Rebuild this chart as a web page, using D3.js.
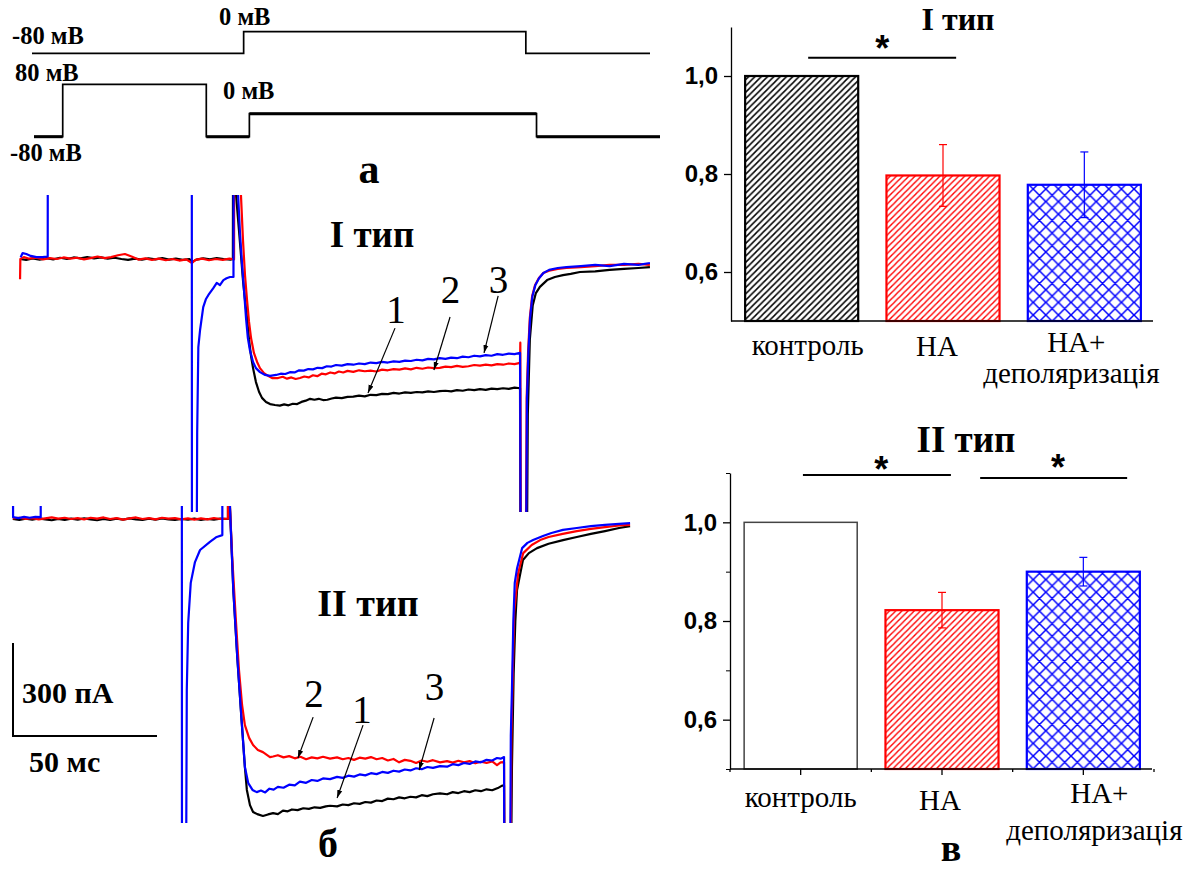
<!DOCTYPE html>
<html><head><meta charset="utf-8">
<script src="https://cdn.jsdelivr.net/npm/d3@7"></script>
<style>
html,body{margin:0;padding:0;background:#fff;}
svg{display:block;}
</style></head><body>
<svg id="fig" width="1204" height="871"></svg>
<script>
// ---------- voltage protocols: [time ms, potential mV] ----------
const protoTest = [[0,-80],[75,-80],[75,0],[175,0],[175,-80],[219,-80]];
const protoPrepulse = [[0,-80],[10,-80],[10,80],[60,80],[60,-80],[75,-80],[75,0],[175,0],[175,-80],[218,-80]];

// ---------- current traces, type I: [time ms, current pA] ----------
const t1Control = [
 [0.3,0],[2.4,-3],[4.7,2],[7.1,-2],[9.5,3],[11.8,-1],[14.2,4],[16.6,0],[18.9,5],[21.3,2],[23.6,6],[26,2],[28.4,5],[30.7,1],[33.1,4],[35.5,0],[37.8,-3],[40.2,1],[42.6,-2],[44.9,2],[47.3,-1],[49.7,3],[52,-2],[54.4,1],[56.8,-3],[59.1,0],[60,-10],[61.5,-2],[63.9,2],[66.2,-1],[68.6,3],[71,0],[73.3,-2],[74.2,0],
 [74.3,700],[75.0,700],[75.3,206],[76.3,94],[77.0,13],[77.7,-68],[78.4,-132],[79.1,-190],[79.8,-261],[80.5,-313],[81.2,-352],[82.2,-397],[83.3,-429],[84.3,-448],[85.7,-461],[87.1,-468],[88.8,-471],
 [90.5,-473],[92,-469],[93.5,-472],[95,-467],[96.5,-468],[98,-461],[99.5,-457],[101,-451],[102.5,-454],[104,-451],[105.5,-455],[107,-454],[108.5,-450],[110,-447],[112,-449],[114,-445],[116,-444],[118,-441],[120,-443],[122,-438],[124,-439],[126,-435],[128,-436],[130,-432],[132,-434],[134,-430],[136,-432],[138,-429],[140,-430],[142,-427],[144,-429],[146,-426],[148,-425],[150,-427],[152,-423],[154,-425],[156,-421],[158,-423],[160,-420],[162,-422],[164,-418],[166,-420],[168,-417],[170,-419],[172,-415],[173.9,-417],
 [174.2,-1500],[175.9,-1500],[176.6,-500],[177.3,-260],[178.3,-150],[179.4,-110],[180.8,-90],[183.3,-68],[186,-58],[188.8,-52],[191.5,-48],[194.7,-42],[200,-40],[205,-35],[210,-32],[215,-29],[219,-26]
];
const t1NA = [
 [0.3,-65],[0.4,0],[1.6,6],[3.5,1],[5.9,4],[8.3,-1],[10.6,3],[13,0],[15.4,5],[17.7,1],[20.1,4],[22.5,-1],[24.8,3],[27.2,8],[29.6,3],[31.9,6],[34.3,12],[36.7,16],[39,8],[41.4,-2],[43.8,2],[46.1,-3],[48.5,1],[50.9,-4],[53.2,0],[55.6,-5],[58,-1],[60,-13],[61.2,-3],[63.5,1],[65.9,-4],[68.3,0],[70.7,-3],[73,1],[74.6,-1],
 [74.7,700],[76.6,700],[77.0,206],[77.7,61],[78.4,-52],[79.1,-132],[79.8,-203],[80.5,-255],[81.5,-303],[82.6,-332],[83.6,-352],[85.0,-368],[86.4,-377],[87.8,-384],[89.9,-384],
 [91.5,-380],[93,-386],[94.5,-382],[96,-387],[97.5,-384],[99,-379],[100.5,-382],[102,-375],[103.5,-378],[105,-370],[106.5,-372],[108,-366],[109.5,-369],[111,-363],[112.5,-366],[114,-361],[116,-364],[118,-359],[120,-362],[122,-360],[124,-363],[126,-357],[128,-359],[130,-355],[132,-357],[134,-353],[136,-356],[138,-351],[140,-354],[142,-350],[144,-352],[146,-351],[148,-347],[150,-349],[152,-345],[154,-348],[156,-346],[158,-342],[160,-344],[162,-341],[164,-343],[166,-339],[168,-341],[170,-337],[172,-339],[173.9,-335],
 [174.0,-270],[174.3,-1500],[175.6,-1500],[176.2,-450],[176.7,-300],[177.3,-190],[178.1,-120],[179.1,-85],[180.4,-62],[182,-45],[184,-38],[187,-32],[190,-29],[195,-26],[200,-23],[205,-19],[210,-19],[215,-16],[219,-19]
];
const t1NADep = [
 [0.5,6],[1.2,19],[2.5,16],[4,10],[6,6],[8,6],[9.9,8],[10.0,1200],[59.9,1200],[60.0,-1500],[61.4,-1500],[61.8,-560],[62.2,-284],[62.8,-229],[63.9,-155],[64.8,-130],[65.7,-116],[67.4,-94],[68.6,-77],[69.7,-84],[70.9,-68],[72,-62],[73.2,-58],[74.4,-58],
 [74.5,1200],[75.7,1200],[76.0,206],[76.7,77],[77.4,-19],[78.1,-106],[78.75,-190],[79.4,-255],[80.1,-294],[81.2,-332],[82.2,-352],[83.6,-365],[85.4,-374],[87.1,-377],[89.2,-374],
 [90.8,-370],[92.4,-371],[94,-365],[95.6,-366],[97.2,-359],[98.8,-360],[100.4,-355],[102,-356],[103.6,-351],[105.2,-352],[106.8,-346],[108.4,-347],[110,-342],[112,-344],[114,-339],[116,-341],[118,-337],[120,-339],[122,-334],[124,-336],[126,-332],[128,-334],[130,-330],[132,-332],[134,-328],[136,-329],[138,-325],[140,-327],[142,-322],[144,-324],[146,-320],[148,-322],[150,-318],[152,-320],[154,-315],[156,-317],[158,-312],[160,-314],[162,-310],[164,-312],[166,-307],[168,-309],[170,-305],[172,-307],[173.9,-303],
 [174.3,-1500],[175.7,-1500],[176.3,-450],[176.8,-300],[177.4,-190],[178.2,-120],[179.2,-85],[180.5,-62],[182,-45],[184,-35],[187,-29],[190,-26],[195,-23],[200,-19],[205,-23],[210,-16],[215,-19],[219,-13]
];

// ---------- current traces, type II: [time ms, current pA] ----------
const t2Control = [
 [0,0],[2.3,-3],[4.6,1],[6.9,-2],[9.2,2],[11.5,-1],[13.8,-4],[16.1,0],[18.4,-3],[20.7,1],[23,-2],[25.3,2],[27.6,-1],[29.9,-4],[32.2,0],[34.5,-3],[36.8,1],[39.1,-2],[41.4,2],[43.7,-1],[46,-3],[48.3,1],[50.6,-2],[52.9,2],[55.2,-1],[57.5,-3],[59.8,0],[62.1,-2],[64.4,1],[66.7,-3],[69,0],[71.3,-2],[73.6,1],[76.3,0],
 [76.4,1000],[76.9,1000],[77.0,39],[78.2,-229],[79.6,-445],[81.2,-658],[82.3,-800],[83.0,-874],[84.1,-923],[85.2,-945],[86.7,-952],[88.7,-958],
 [90.5,-953],[92.3,-949],[94,-952],[95.8,-941],[97.5,-943],[99,-937],[101,-939],[103,-933],[105,-935],[107,-930],[109,-932],[111,-927],[112.5,-925],[115,-927],[117,-921],[119,-923],[121,-917],[123,-919],[125,-913],[127,-915],[129,-908],[131,-910],[133,-902],[135,-904],[137,-898],[139,-901],[141,-896],[143,-898],[145,-891],[147,-894],[149,-888],[151.5,-885],[154,-888],[156,-881],[158,-884],[160,-878],[162,-881],[164,-875],[166,-878],[168,-872],[170,-875],[172,-868],[173.5,-860],[174.2,-860],
 [174.5,-1500],[176.3,-1500],[177,-800],[177.6,-500],[178.2,-330],[178.8,-229],[180.9,-132],[183,-110],[185.9,-94],[190,-80],[195.1,-68],[200,-58],[205,-48],[210,-39],[215,-29],[218.9,-23]
];
const t2NA = [
 [0,2],[2.3,4],[4.6,0],[6.9,3],[9.2,-1],[11.5,2],[13.8,5],[16.1,1],[18.4,4],[20.7,0],[23,3],[25.3,-1],[27.6,4],[29.9,1],[32.2,5],[34.5,0],[36.8,3],[39.1,-2],[41.4,2],[43.7,5],[46,0],[48.3,3],[50.6,-1],[52.9,4],[55.2,1],[57.5,3],[59.8,-1],[62.1,2],[64.4,-2],[66.7,2],[69,-1],[71.3,3],[73.6,0],[76.3,1],
 [76.4,1000],[76.9,1000],[77.0,39],[77.8,-123],[79.1,-326],[80.2,-487],[81.3,-600],[82.3,-665],[83.8,-706],[85.2,-729],[86.9,-745],[88.7,-752],[91.2,-768],
 [92.3,-766],[94,-762],[96,-769],[98,-765],[100,-772],[102,-767],[104,-775],[106,-769],[108,-772],[110,-767],[112.5,-773],[115,-769],[117,-775],[119,-771],[121,-777],[123,-770],[125,-773],[127,-768],[129,-775],[131,-771],[133,-779],[135,-774],[137,-785],[139,-777],[141,-780],[143,-787],[145,-779],[147,-783],[149,-778],[151.5,-785],[154,-781],[156,-786],[158,-780],[160,-785],[162,-781],[164,-788],[166,-783],[168,-787],[170,-782],[171.7,-794],[173,-785],[174.2,-784],
 [174.5,-1500],[176.3,-1500],[176.8,-700],[177.3,-500],[177.8,-300],[179.2,-175],[181,-110],[184,-84],[187,-68],[190,-58],[195,-48],[200,-39],[205,-32],[210,-26],[215,-21],[218.9,-19]
];
const t2NADep = [
 [0,400],[0.1,6],[2,3],[4,7],[6,4],[8,7],[9.9,6],[10.0,1500],[59.9,1500],[60.0,-1500],[61.3,-1500],[61.7,-552],[62.2,-335],[63.1,-206],[64.6,-139],[66.4,-100],[69.9,-74],[72.3,-58],[74.3,-52],
 [74.4,1500],[76.8,1500],[77.0,39],[78.2,-229],[79.6,-445],[81.2,-658],[82.3,-800],[83.5,-852],[85,-874],[86.5,-881],
 [88,-876],[89.5,-882],[91,-870],[92.5,-873],[94,-864],[96,-867],[98,-857],[100,-859],[101.8,-847],[104,-851],[106,-842],[108,-845],[110,-837],[112.5,-839],[115,-832],[117,-835],[119,-828],[121,-831],[123,-824],[125,-827],[127,-820],[129,-823],[131,-816],[133,-819],[135,-812],[137,-815],[139,-808],[141,-811],[143,-804],[145,-807],[147,-800],[149,-803],[151.5,-797],[154,-799],[156,-791],[158,-794],[160,-787],[162,-790],[164,-782],[166,-785],[168,-777],[170,-779],[171.7,-771],[173,-773],[174.2,-768],
 [174.4,-1500],[176.2,-1500],[176.6,-700],[177.0,-552],[177.5,-330],[178.0,-206],[178.8,-160],[180.6,-94],[182.5,-77],[184.5,-68],[188,-55],[191,-45],[195.1,-35],[200,-29],[205,-23],[210,-19],[215,-16],[218.9,-13]
];

// trace labels: [label, text t, text I, arrow-from t, arrow-from I, arrow-to t, arrow-to I]
const t1Labels = [["1",130.8,-206,130.5,-223,121.1,-432],["2",149.8,-142,149.6,-187,144.0,-358],["3",166.4,-110,166.3,-119,161.4,-303]];
const t2Labels = [["2",106.8,-606,106.5,-639,101.1,-771],["1",123.8,-658,124.2,-665,115.0,-900],["3",149.5,-584,149.4,-642,144.1,-810]];

// ---------- normalised amplitude (bar charts) ----------
const categories = ["контроль", "НА", "НА+ деполяризація"];
const categoryLines = [["контроль"], ["НА"], ["НА+", "деполяризація"]];
const type1Means = [1.0, 0.797, 0.778];
const type1Errors = [0, 0.063, 0.067];
const type2Means = [1.0, 0.822, 0.900];
const type2Errors = [0, 0.036, 0.029];
const majorTicks = [0.6, 0.8, 1.0];
const minorTicks = [0.5, 0.7, 0.9, 1.1];

// ================= drawing =================
const svg = d3.select("#fig");
svg.append("rect").attr("width",1204).attr("height",871).attr("fill","#fff");
const SERIF = "'Liberation Serif','Times New Roman',serif";
const SANS = "'Liberation Sans',Arial,sans-serif";
const defs = svg.append("defs");

// hatch patterns
function diagPattern(id, color, s, w) {
  const p = defs.append("pattern").attr("id", id).attr("patternUnits","userSpaceOnUse")
    .attr("width", s).attr("height", s);
  p.append("path").attr("d", `M0,${s} L${s},0 M${-s/2},${s/2} L${s/2},${-s/2} M${s/2},${1.5*s} L${1.5*s},${s/2}`)
    .attr("stroke", color).attr("stroke-width", w).attr("fill","none");
}
diagPattern("hatchBlack", "#000", 6.3, 1.5);
diagPattern("hatchRed", "#ff0000", 6.2, 1.4);
const cross = defs.append("pattern").attr("id","hatchCross").attr("patternUnits","userSpaceOnUse")
  .attr("width",12.6).attr("height",12.6);
cross.append("path").attr("d","M0,0 L12.6,12.6 M12.6,0 L0,12.6 M-1,1 L1,-1 M11.6,13.6 L13.6,11.6 M-1,11.6 L1,13.6 M11.6,-1 L13.6,1")
  .attr("stroke","#0000ff").attr("stroke-width",1.5).attr("fill","none");

defs.append("marker").attr("id","arrowHead").attr("viewBox","0 0 10 10")
  .attr("refX",10).attr("refY",5).attr("markerWidth",8).attr("markerHeight",8)
  .attr("markerUnits","userSpaceOnUse").attr("orient","auto")
  .append("path").attr("d","M0,1.8 L10,5 L0,8.2 z").attr("fill","#000");

// ---------- panel a: protocols ----------
const pxTest = d3.scaleLinear().domain([0,219]).range([32,650]);
const pyTest = d3.scaleLinear().domain([-80,0]).range([53.3,31.7]);
const pxPre = d3.scaleLinear().domain([0,218]).range([34,660]);
const pyPre = d3.scaleLinear().domain([-80,0,80]).range([136.7,113.7,84.3]);

svg.append("path").datum(protoTest)
  .attr("d", d3.line().x(d=>pxTest(d[0])).y(d=>pyTest(d[1])))
  .attr("fill","none").attr("stroke","#000").attr("stroke-width",1.7);

// prepulse protocol: verticals thin, holding / test levels heavier
svg.append("path").datum(protoPrepulse)
  .attr("d", d3.line().x(d=>pxPre(d[0])).y(d=>pyPre(d[1])))
  .attr("fill","none").attr("stroke","#000").attr("stroke-width",1.7);
const preSegs = d3.pairs(protoPrepulse).filter(([a,b]) => a[1] === b[1] && a[1] <= 0);
svg.append("g").selectAll("line").data(preSegs).join("line")
  .attr("x1", d=>pxPre(d[0][0])).attr("x2", d=>pxPre(d[1][0]))
  .attr("y1", d=>pyPre(d[0][1])).attr("y2", d=>pyPre(d[1][1]))
  .attr("stroke","#000").attr("stroke-width",3);

const protoText = [["-80 мВ",12,44],["0 мВ",219,25],["80 мВ",15,81],["0 мВ",223,99],["-80 мВ",10,161]];
svg.append("g").selectAll("text").data(protoText).join("text")
  .attr("x",d=>d[1]).attr("y",d=>d[2]).text(d=>d[0])
  .attr("font-family",SERIF).attr("font-weight","bold").attr("font-size",24.5);

svg.append("text").attr("x",369).attr("y",183).attr("text-anchor","middle")
  .attr("font-family",SERIF).attr("font-weight","bold").attr("font-size",42).text("а");

// ---------- panel б: current traces ----------
const x1 = d3.scaleLinear().domain([0,220]).range([19.2,652.8]);
const y1 = d3.scaleLinear().domain([0,-1000]).range([259,569]);
const x2 = d3.scaleLinear().domain([0,220]).range([12.8,633.2]);
const y2 = d3.scaleLinear().domain([0,-1000]).range([519,829]);

defs.append("clipPath").attr("id","clip1").append("rect").attr("x",0).attr("y",195).attr("width",670).attr("height",317);
defs.append("clipPath").attr("id","clip2").append("rect").attr("x",0).attr("y",506).attr("width",670).attr("height",317);

function drawTraces(clipId, xs, ys, traces) {
  const g = svg.append("g").attr("clip-path", `url(#${clipId})`);
  const line = d3.line().x(d=>xs(d[0])).y(d=>ys(d[1]));
  traces.forEach(([data,color]) => {
    g.append("path").datum(data).attr("d", line).attr("fill","none")
      .attr("stroke", color).attr("stroke-width", 2.2).attr("stroke-linejoin","round");
  });
}
drawTraces("clip1", x1, y1, [[t1Control,"#000"],[t1NA,"#ff0000"],[t1NADep,"#0000ff"]]);
drawTraces("clip2", x2, y2, [[t2Control,"#000"],[t2NA,"#ff0000"],[t2NADep,"#0000ff"]]);

function drawLabels(xs, ys, labels) {
  const g = svg.append("g");
  labels.forEach(([txt, tx, ty, fx, fy, ax, ay]) => {
    g.append("line").attr("x1", xs(fx)).attr("y1", ys(fy)).attr("x2", xs(ax)).attr("y2", ys(ay))
      .attr("stroke","#000").attr("stroke-width",1.2).attr("marker-end","url(#arrowHead)");
    g.append("text").attr("x", xs(tx)).attr("y", ys(ty)).attr("text-anchor","middle")
      .attr("font-family",SERIF).attr("font-size",39).text(txt);
  });
}
drawLabels(x1, y1, t1Labels);
drawLabels(x2, y2, t2Labels);

svg.append("text").attr("x",372).attr("y",247).attr("text-anchor","middle")
  .attr("font-family",SERIF).attr("font-weight","bold").attr("font-size",37).text("I тип");
svg.append("text").attr("x",368).attr("y",616).attr("text-anchor","middle")
  .attr("font-family",SERIF).attr("font-weight","bold").attr("font-size",38).text("II тип");

// scale bar: 300 pA, 50 ms
const sbX = 13, sbY = 736;
const sbH = y2(-300) - y2(0), sbW = x1(50) - x1(0);
svg.append("path").attr("d", `M${sbX},${sbY - sbH} V${sbY} H${sbX + sbW}`)
  .attr("fill","none").attr("stroke","#000").attr("stroke-width",2);
svg.append("text").attr("x",22).attr("y",703).attr("font-family",SERIF).attr("font-weight","bold")
  .attr("font-size",30).text("300 пА");
svg.append("text").attr("x",29).attr("y",772).attr("font-family",SERIF).attr("font-weight","bold")
  .attr("font-size",30).text("50 мс");
svg.append("text").attr("x",328).attr("y",857).attr("text-anchor","middle")
  .attr("font-family",SERIF).attr("font-weight","bold").attr("font-size",40).text("б");

// ---------- panel в: bar charts ----------
const fmt = d => d3.format(".1f")(d).replace(".", ",");
const fills = [["url(#hatchBlack)","#000"],["url(#hatchRed)","#ff0000"],["url(#hatchCross)","#0000ff"]];
const fills2 = [["#fff","#444"],["url(#hatchRed)","#ff0000"],["url(#hatchCross)","#0000ff"]];

function barChart(opt) {
  const { x0, x1r, yTop, yBot, means, errs, fillSet, title, titleX, titleY, titleSize,
          sig, labelDx, labelY, minor } = opt;
  const xb = d3.scaleBand().domain(categories).range([x0, x1r]).paddingInner(0.2).paddingOuter(0.1);
  const y = d3.scaleLinear().domain([0.5, 1.1]).range([yBot, yTop]);
  const g = svg.append("g");
  const step = xb.step(), bw = xb.bandwidth();
  const center = i => xb(categories[i]) + bw / 2;

  g.selectAll("rect.bar").data(means).join("rect").attr("class","bar")
    .attr("x", (d,i) => xb(categories[i])).attr("width", bw)
    .attr("y", d => y(d)).attr("height", d => y(0.5) - y(d))
    .attr("fill", (d,i) => fillSet[i][0]).attr("stroke", (d,i) => fillSet[i][1])
    .attr("stroke-width", (d,i) => i === 0 && fillSet[0][0] === "#fff" ? 1.5 : 2.2);

  // error bars
  means.forEach((m, i) => {
    if (!errs[i]) return;
    const cx = center(i), c = fillSet[i][1];
    g.append("line").attr("x1",cx).attr("x2",cx).attr("y1",y(m + errs[i])).attr("y2",y(m - errs[i]))
      .attr("stroke",c).attr("stroke-width",1.2);
    [m + errs[i], m - errs[i]].forEach(v => g.append("line").attr("x1",cx-4).attr("x2",cx+4)
      .attr("y1",y(v)).attr("y2",y(v)).attr("stroke",c).attr("stroke-width",1.2));
  });

  // axes
  const ya = g.append("g").attr("transform",`translate(${x0},0)`)
    .call(d3.axisLeft(y).tickValues(majorTicks).tickFormat(fmt).tickSize(7).tickSizeOuter(0).tickPadding(6));
  ya.select(".domain").attr("stroke-width",1.3);
  ya.selectAll(".tick line").attr("stroke-width",1.3);
  ya.selectAll("text").attr("font-family",SANS).attr("font-weight","bold").attr("font-size",24).attr("fill","#000");
  if (minor) {
    g.append("g").attr("transform",`translate(${x0},0)`)
      .call(d3.axisLeft(y).tickValues(minorTicks).tickFormat("").tickSize(4).tickSizeOuter(0))
      .select(".domain").remove();
  }
  g.append("line").attr("x1",x0).attr("x2",x1r - 2).attr("y1",y(0.5)).attr("y2",y(0.5))
    .attr("stroke","#000").attr("stroke-width",1.6);
  if (minor) {
    const tickXs = [[x0, 3]];
    categories.forEach((c,i) => { tickXs.push([center(i), 6]); if (i < 2) tickXs.push([center(i) + step/2, 3]); });
    tickXs.push([x1r, 3]);
    tickXs.forEach(([tx, len]) => g.append("line").attr("x1",tx).attr("x2",tx)
      .attr("y1",y(0.5)).attr("y2",y(0.5)+len).attr("stroke","#000").attr("stroke-width",1.3));
  }

  // category labels
  categoryLines.forEach((lines, i) => {
    lines.forEach((ln, j) => {
      g.append("text").attr("x", center(i) + labelDx[i][j]).attr("y", labelY[i][j])
        .attr("text-anchor","middle").attr("font-family",SERIF).attr("font-size",29).text(ln);
    });
  });

  // significance marks: [from (category units), to, level, star position, star level]
  sig.forEach(([a, b, lv, sp, sl]) => {
    g.append("line").attr("x1", center(0) + a*step).attr("x2", center(0) + b*step)
      .attr("y1", y(lv)).attr("y2", y(lv)).attr("stroke","#000").attr("stroke-width",2);
    g.append("text").attr("x", center(0) + sp*step).attr("y", y(sl) + 21).attr("text-anchor","middle")
      .attr("font-family",SANS).attr("font-weight","bold").attr("font-size",36).text("*");
  });

  g.append("text").attr("x",titleX).attr("y",titleY).attr("text-anchor","middle")
    .attr("font-family",SERIF).attr("font-weight","bold").attr("font-size",titleSize).text(title);
}

barChart({ x0:731, x1r:1155, yTop:27, yBot:321, means:type1Means, errs:type1Errors, fillSet:fills,
  title:"I тип", titleX:958, titleY:30, titleSize:32,
  sig:[[0.046, 1.093, 1.037, 0.57, 1.073]],
  labelDx:[[6],[-6],[-8,-13]], labelY:[[355],[356],[352,383]], minor:false });

barChart({ x0:730, x1r:1154, yTop:473, yBot:769, means:type2Means, errs:type2Errors, fillSet:fills2,
  title:"II тип", titleX:966, titleY:452, titleSize:37,
  sig:[[0.016, 1.063, 1.096, 0.57, 1.124],[1.27, 2.31, 1.090, 1.82, 1.128]],
  labelDx:[[0],[-2],[16,11]], labelY:[[807],[810],[803,840]], minor:true });

svg.append("text").attr("x",951).attr("y",861).attr("text-anchor","middle")
  .attr("font-family",SERIF).attr("font-weight","bold").attr("font-size",38).text("в");
</script>
</body></html>
